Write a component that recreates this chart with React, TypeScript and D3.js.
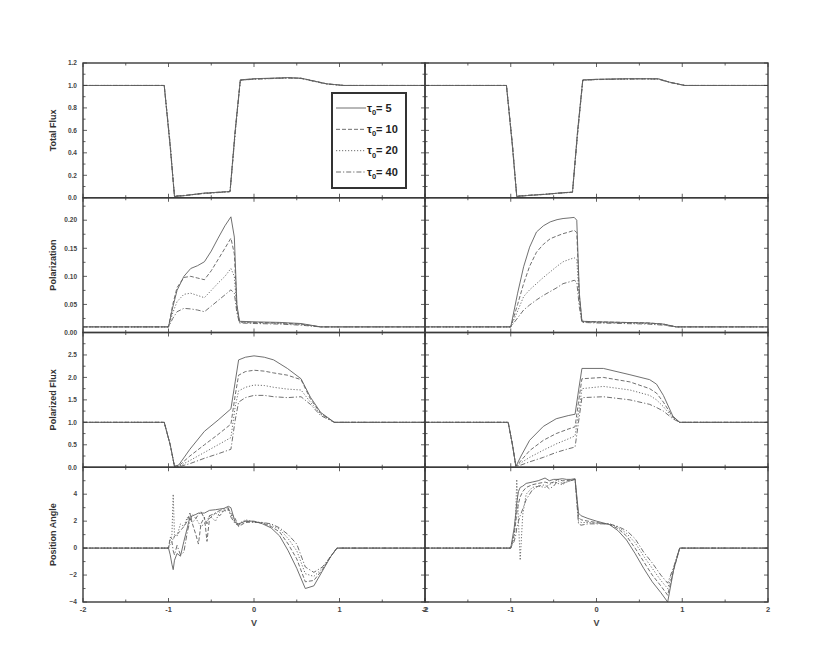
import React from "react";
import * as d3 from "d3";

// legend / series
const tauValues = ["5", "10", "20", "40"];
const dashArrays = ["none", "4,2", "1.2,1.8", "5,2,1.2,2"];

// x axis
const vTicks = [-2, -1, 0, 1, 2];
const vMinor = [-1.5, -0.5, 0.5, 1.5];

// ---- Total Flux ----
const fluxTicks = [0, 0.2, 0.4, 0.6, 0.8, 1.0, 1.2];
const fluxXL = [-2, -1.05, -0.98, -0.93, -0.8, -0.6, -0.4, -0.28, -0.22, -0.16, 0, 0.2, 0.4, 0.55, 0.7, 0.85, 1.05, 2];
const flux5L = [1, 1, 0.45, 0.01, 0.02, 0.04, 0.05, 0.055, 0.6, 1.05, 1.06, 1.065, 1.07, 1.065, 1.04, 1.015, 1.0, 1.0];
const flux10L = [1, 1, 0.46, 0.012, 0.02, 0.04, 0.05, 0.056, 0.6, 1.048, 1.058, 1.063, 1.068, 1.064, 1.04, 1.015, 1.0, 1.0];
const flux20L = [1, 1, 0.47, 0.014, 0.02, 0.038, 0.048, 0.055, 0.58, 1.046, 1.057, 1.062, 1.067, 1.063, 1.038, 1.013, 1.0, 1.0];
const flux40L = [1, 1, 0.48, 0.016, 0.022, 0.036, 0.047, 0.054, 0.57, 1.045, 1.056, 1.061, 1.066, 1.062, 1.037, 1.012, 1.0, 1.0];
const fluxXR = [-2, -1.05, -0.98, -0.93, -0.8, -0.6, -0.4, -0.28, -0.22, -0.16, 0, 0.3, 0.55, 0.72, 0.85, 1.03, 2];
const flux5R = [1, 1, 0.45, 0.01, 0.02, 0.03, 0.045, 0.05, 0.6, 1.05, 1.055, 1.06, 1.06, 1.06, 1.03, 1.0, 1.0];
const flux10R = [1, 1, 0.46, 0.012, 0.02, 0.03, 0.044, 0.05, 0.59, 1.048, 1.054, 1.058, 1.06, 1.058, 1.03, 1.0, 1.0];
const flux20R = [1, 1, 0.47, 0.014, 0.021, 0.031, 0.043, 0.049, 0.58, 1.046, 1.053, 1.057, 1.059, 1.057, 1.028, 1.0, 1.0];
const flux40R = [1, 1, 0.48, 0.016, 0.022, 0.032, 0.042, 0.048, 0.57, 1.045, 1.052, 1.056, 1.058, 1.056, 1.027, 1.0, 1.0];

// ---- Polarization ----
const polTicks = [0, 0.05, 0.1, 0.15, 0.2];
const polXL = [-2, -1, -0.95, -0.9, -0.82, -0.74, -0.66, -0.58, -0.5, -0.42, -0.34, -0.27, -0.23, -0.2, -0.17, 0, 0.3, 0.55, 0.78, 2];
const pol5L = [0.01, 0.01, 0.045, 0.075, 0.1, 0.114, 0.119, 0.126, 0.145, 0.168, 0.19, 0.206, 0.17, 0.05, 0.02, 0.019, 0.018, 0.016, 0.01, 0.01];
const pol10L = [0.01, 0.01, 0.05, 0.08, 0.098, 0.1, 0.097, 0.094, 0.11, 0.13, 0.15, 0.168, 0.14, 0.045, 0.019, 0.018, 0.017, 0.015, 0.01, 0.01];
const pol20L = [0.01, 0.01, 0.035, 0.055, 0.068, 0.07, 0.066, 0.062, 0.075, 0.088, 0.1, 0.114, 0.1, 0.04, 0.018, 0.017, 0.016, 0.014, 0.01, 0.01];
const pol40L = [0.01, 0.01, 0.025, 0.037, 0.043, 0.042, 0.04, 0.037, 0.047, 0.057, 0.067, 0.076, 0.07, 0.035, 0.017, 0.016, 0.015, 0.013, 0.01, 0.01];
const polXR = [-2, -1, -0.92, -0.85, -0.78, -0.7, -0.62, -0.54, -0.46, -0.39, -0.32, -0.26, -0.23, -0.2, -0.17, 0, 0.3, 0.6, 0.78, 0.93, 2];
const pol5R = [0.01, 0.01, 0.07, 0.117, 0.152, 0.179, 0.19, 0.197, 0.201, 0.203, 0.204, 0.205, 0.2, 0.07, 0.02, 0.019, 0.018, 0.017, 0.015, 0.01, 0.01];
const pol10R = [0.01, 0.01, 0.05, 0.087, 0.118, 0.143, 0.157, 0.167, 0.172, 0.176, 0.179, 0.182, 0.178, 0.065, 0.02, 0.019, 0.018, 0.017, 0.015, 0.01, 0.01];
const pol20R = [0.01, 0.01, 0.038, 0.064, 0.076, 0.087, 0.098, 0.108, 0.118, 0.126, 0.13, 0.133, 0.13, 0.055, 0.019, 0.018, 0.017, 0.016, 0.014, 0.01, 0.01];
const pol40R = [0.01, 0.01, 0.026, 0.04, 0.049, 0.058, 0.066, 0.073, 0.08, 0.087, 0.09, 0.093, 0.09, 0.045, 0.018, 0.017, 0.016, 0.015, 0.013, 0.01, 0.01];

// ---- Polarized Flux ----
const pfTicks = [0, 0.5, 1.0, 1.5, 2.0, 2.5];
const pfXL = [-2, -1.05, -0.98, -0.93, -0.88, -0.75, -0.58, -0.42, -0.27, -0.22, -0.18, -0.1, 0, 0.12, 0.23, 0.39, 0.55, 0.66, 0.78, 0.94, 2];
const pf5L = [1, 1, 0.5, 0.02, 0.05, 0.4, 0.8, 1.05, 1.3, 1.9, 2.39, 2.45, 2.48, 2.45, 2.39, 2.2, 1.97, 1.56, 1.22, 1.0, 1];
const pf10L = [1, 1, 0.5, 0.02, 0.03, 0.25, 0.5, 0.73, 0.96, 1.6, 2.05, 2.13, 2.16, 2.14, 2.1, 2.05, 1.95, 1.52, 1.2, 1.0, 1];
const pf20L = [1, 1, 0.5, 0.02, 0.02, 0.15, 0.33, 0.5, 0.66, 1.35, 1.7, 1.78, 1.83, 1.82, 1.78, 1.74, 1.72, 1.45, 1.18, 1.0, 1];
const pf40L = [1, 1, 0.5, 0.02, 0.01, 0.08, 0.2, 0.3, 0.4, 1.05, 1.45, 1.55, 1.6, 1.6, 1.57, 1.55, 1.57, 1.4, 1.15, 1.0, 1];
const pfXR = [-2, -1.03, -0.98, -0.94, -0.88, -0.78, -0.62, -0.47, -0.33, -0.25, -0.21, -0.17, 0.08, 0.39, 0.62, 0.7, 0.78, 0.89, 0.97, 2];
const pf5R = [1, 1, 0.5, 0.02, 0.25, 0.6, 0.91, 1.08, 1.15, 1.18, 1.7, 2.2, 2.2, 2.06, 1.95, 1.85, 1.6, 1.14, 1.0, 1];
const pf10R = [1, 1, 0.5, 0.02, 0.15, 0.37, 0.6, 0.75, 0.85, 0.9, 1.45, 1.97, 2.0, 1.9, 1.75, 1.65, 1.45, 1.12, 1.0, 1];
const pf20R = [1, 1, 0.5, 0.02, 0.1, 0.22, 0.38, 0.52, 0.63, 0.7, 1.2, 1.75, 1.8, 1.72, 1.6, 1.5, 1.35, 1.1, 1.0, 1];
const pf40R = [1, 1, 0.5, 0.02, 0.05, 0.12, 0.22, 0.33, 0.41, 0.45, 1.0, 1.55, 1.57, 1.5, 1.4, 1.33, 1.25, 1.08, 1.0, 1];

// ---- Position Angle ----
const paTicks = [-4, -2, 0, 2, 4];
const paXL = [-2, -1, -0.98, -0.96, -0.945, -0.93, -0.9, -0.86, -0.82, -0.78, -0.75, -0.72, -0.68, -0.65, -0.62, -0.58, -0.55, -0.52, -0.45, -0.4, -0.35, -0.3, -0.27, -0.22, -0.18, -0.1, 0, 0.1, 0.2, 0.3, 0.4, 0.5, 0.6, 0.7, 0.8, 0.9, 0.97, 2];
const pa5L = [0, 0, -0.5, -1.2, -1.6, -0.9, -0.4, -0.6, 0.5, 1.5, 2.3, 2.4, 2.5, 2.6, 2.6, 2.6, 2.7, 2.8, 2.85, 2.9, 2.95, 3.1, 3.0, 1.9, 1.8, 2.0, 2.0, 1.8, 1.5, 0.9, -0.2, -1.5, -3.0, -2.8, -1.7, -0.6, 0, 0];
const pa10L = [0, 0, 0.8, 0.7, 0.6, 0.9, 1.0, 1.3, 1.6, 2.0, 2.6, 1.8, 1.0, 0.3, 1.8, 2.3, 0.5, 2.2, 2.6, 2.4, 2.8, 2.9, 2.6, 2.2, 1.6, 1.9, 1.95, 1.85, 1.6, 1.2, 0.3, -0.8, -2.5, -2.4, -1.6, -0.6, 0, 0];
const pa20L = [0, 0, 0.6, 1.0, 4.0, 1.0, 0.9, 1.8, 1.6, 2.3, 2.1, 1.9, 2.2, 1.9, 1.6, 1.8, 2.0, 2.4, 2.0, 2.7, 2.75, 2.8, 2.5, 1.9, 1.8, 2.1, 1.95, 1.9, 1.7, 1.4, 0.7, -0.2, -1.9, -2.1, -1.5, -0.6, 0, 0];
const pa40L = [0, 0, 0.3, 0.5, -0.2, -0.5, 0.2, -0.5, -0.3, 1.2, 2.0, 2.5, 2.2, 2.5, 2.7, 2.2, 1.8, 2.4, 2.6, 2.8, 2.9, 3.0, 2.3, 1.8, 1.7, 2.0, 1.9, 1.9, 1.8, 1.5, 1.0, 0.3, -1.4, -1.8, -1.4, -0.6, 0, 0];
const paXR = [-2, -1, -0.96, -0.94, -0.93, -0.91, -0.89, -0.86, -0.82, -0.75, -0.68, -0.6, -0.55, -0.5, -0.45, -0.4, -0.35, -0.3, -0.25, -0.21, -0.18, -0.1, 0, 0.15, 0.25, 0.35, 0.45, 0.55, 0.65, 0.75, 0.83, 0.9, 0.97, 2];
const pa5R = [0, 0, 1.5, 2.6, 3.4, 4.2, 4.5, 4.6, 4.8, 4.9, 5.0, 5.2, 5.0, 5.1, 5.1, 5.15, 5.1, 5.1, 5.15, 2.6, 2.4, 2.2, 2.0, 1.75, 1.3, 0.6, -0.4, -1.5, -2.5, -3.3, -4.0, -1.6, 0, 0];
const pa10R = [0, 0, 1.0, 2.0, 2.6, 3.3, 3.8, 4.2, 4.5, 4.7, 4.8, 4.9, 4.8, 4.9, 5.1, 5.0, 5.0, 5.05, 5.1, 2.3, 2.1, 2.0, 1.9, 1.75, 1.45, 0.9, 0.0, -1.0, -2.0, -2.8, -3.5, -1.6, 0, 0];
const pa20R = [0, 0, 0.8, 3.0, 5.1, 2.0, -0.9, 2.5, 4.0, 4.5, 4.6, 4.5, 4.7, 4.9, 4.8, 4.7, 4.9, 5.0, 5.1, 2.0, 1.9, 1.9, 1.85, 1.8, 1.55, 1.1, 0.4, -0.6, -1.5, -2.4, -3.0, -1.5, 0, 0];
const pa40R = [0, 0, 0.5, 1.0, 1.5, 2.0, 2.4, 2.9, 3.6, 4.3, 4.6, 4.7, 4.4, 4.6, 5.0, 4.8, 4.9, 5.0, 5.1, 1.8, 1.7, 1.8, 1.8, 1.8, 1.6, 1.3, 0.7, -0.3, -1.1, -2.0, -2.6, -1.4, 0, 0];

const panels = [
  { label: "Total Flux", domain: [0, 1.2], ticks: fluxTicks, minor: 0.1, fmt: d3.format(".1f"),
    left: { x: fluxXL, ys: [flux5L, flux10L, flux20L, flux40L] },
    right: { x: fluxXR, ys: [flux5R, flux10R, flux20R, flux40R] } },
  { label: "Polarization", domain: [0, 0.24], ticks: polTicks, minor: 0.025, fmt: d3.format(".2f"),
    left: { x: polXL, ys: [pol5L, pol10L, pol20L, pol40L] },
    right: { x: polXR, ys: [pol5R, pol10R, pol20R, pol40R] } },
  { label: "Polarized Flux", domain: [0, 3], ticks: pfTicks, minor: 0.25, fmt: d3.format(".1f"),
    left: { x: pfXL, ys: [pf5L, pf10L, pf20L, pf40L] },
    right: { x: pfXR, ys: [pf5R, pf10R, pf20R, pf40R] } },
  { label: "Position Angle", domain: [-4, 6], ticks: paTicks, minor: 1, fmt: d3.format("d"),
    left: { x: paXL, ys: [pa5L, pa10L, pa20L, pa40L] },
    right: { x: paXR, ys: [pa5R, pa10R, pa20R, pa40R] } },
];

const W = 830;
const H = 672;
const top0 = 63;
const panelH = 134.75;
const colEdges = [[83, 425], [425, 768]];
const frameColor = "#3a3a3a";
const lineColor = "#606060";
const font = "'Liberation Sans', Arial, sans-serif";

const Panel = ({ p, row, col }) => {
  const [x0, x1] = colEdges[col];
  const y0 = top0 + row * panelH;
  const y1 = y0 + panelH;
  const x = d3.scaleLinear().domain([-2, 2]).range([x0, x1]);
  const y = d3.scaleLinear().domain(p.domain).range([y1, y0]);
  const side = col === 0 ? p.left : p.right;
  const line = d3.line().x((d) => x(d[0])).y((d) => y(d[1]));
  const yMinor = d3.range(p.domain[0], p.domain[1] + 1e-9, p.minor);

  return (
    <g>
      {side.ys.map((ys, i) => (
        <path key={i} d={line(side.x.map((v, k) => [v, ys[k]]))} fill="none"
          stroke={lineColor} strokeWidth={0.9} strokeDasharray={dashArrays[i]} />
      ))}
      <rect x={x0} y={y0} width={x1 - x0} height={y1 - y0} fill="none" stroke={frameColor} strokeWidth={1.4} />
      {/* x ticks, inward on top and bottom */}
      {vTicks.concat(vMinor).map((t, i) => {
        const len = vTicks.includes(t) ? 4 : 2.5;
        return (
          <g key={"xt" + i} stroke={frameColor} strokeWidth={0.8}>
            <line x1={x(t)} x2={x(t)} y1={y1} y2={y1 - len} />
            <line x1={x(t)} x2={x(t)} y1={y0} y2={y0 + len} />
          </g>
        );
      })}
      {/* y ticks, inward on left and right */}
      {yMinor.map((t, i) => {
        const major = p.ticks.some((m) => Math.abs(m - t) < 1e-6);
        const len = major ? 4 : 2.5;
        return (
          <g key={"yt" + i} stroke={frameColor} strokeWidth={0.8}>
            <line x1={x0} x2={x0 + len} y1={y(t)} y2={y(t)} />
            <line x1={x1} x2={x1 - len} y1={y(t)} y2={y(t)} />
          </g>
        );
      })}
      {col === 0 &&
        p.ticks.map((t, i) => (
          <text key={"yl" + i} x={x0 - 6} y={y(t)} dy="0.35em" textAnchor="end"
            fontFamily={font} fontSize={6.5} fontWeight="bold" fill="#444">
            {p.fmt(t)}
          </text>
        ))}
      {col === 0 && (
        <text transform={`translate(56,${(y0 + y1) / 2}) rotate(-90)`} textAnchor="middle"
          fontFamily={font} fontSize={9} fontWeight="bold" fill="#333">
          {p.label}
        </text>
      )}
      {row === 3 &&
        vTicks.map((t, i) => (
          <text key={"xl" + i} x={x(t)} y={y1 + 10} textAnchor="middle"
            fontFamily={font} fontSize={7.5} fontWeight="bold" fill="#444">
            {t}
          </text>
        ))}
      {row === 3 && (
        <text x={x(0)} y={y1 + 24} textAnchor="middle" fontFamily={font} fontSize={9} fontWeight="bold" fill="#444">
          V
        </text>
      )}
    </g>
  );
};

const Legend = () => {
  const bx = 332, by = 93, bw = 74, bh = 95;
  const rows = d3.scaleLinear().domain([0, 3]).range([108, 172]);
  return (
    <g>
      <rect x={bx} y={by} width={bw} height={bh} fill="white" stroke="#333" strokeWidth={2} />
      {tauValues.map((t, i) => (
        <g key={t}>
          <line x1={336} x2={366} y1={rows(i)} y2={rows(i)} stroke={lineColor}
            strokeWidth={0.9} strokeDasharray={dashArrays[i]} />
          <text x={367} y={rows(i) + 3.5} fontFamily={font} fontSize={11} fontWeight="bold" fill="#222">
            τ
            <tspan fontSize={7.5} dy={3.5}>0</tspan>
            <tspan dy={-3.5}>= {t}</tspan>
          </text>
        </g>
      ))}
    </g>
  );
};

export default function App() {
  return (
    <svg width={W} height={H} style={{ position: "absolute", left: 0, top: 0, background: "white" }}>
      {panels.map((p, row) => (
        <g key={p.label}>
          <Panel p={p} row={row} col={0} />
          <Panel p={p} row={row} col={1} />
        </g>
      ))}
      <Legend />
    </svg>
  );
}
